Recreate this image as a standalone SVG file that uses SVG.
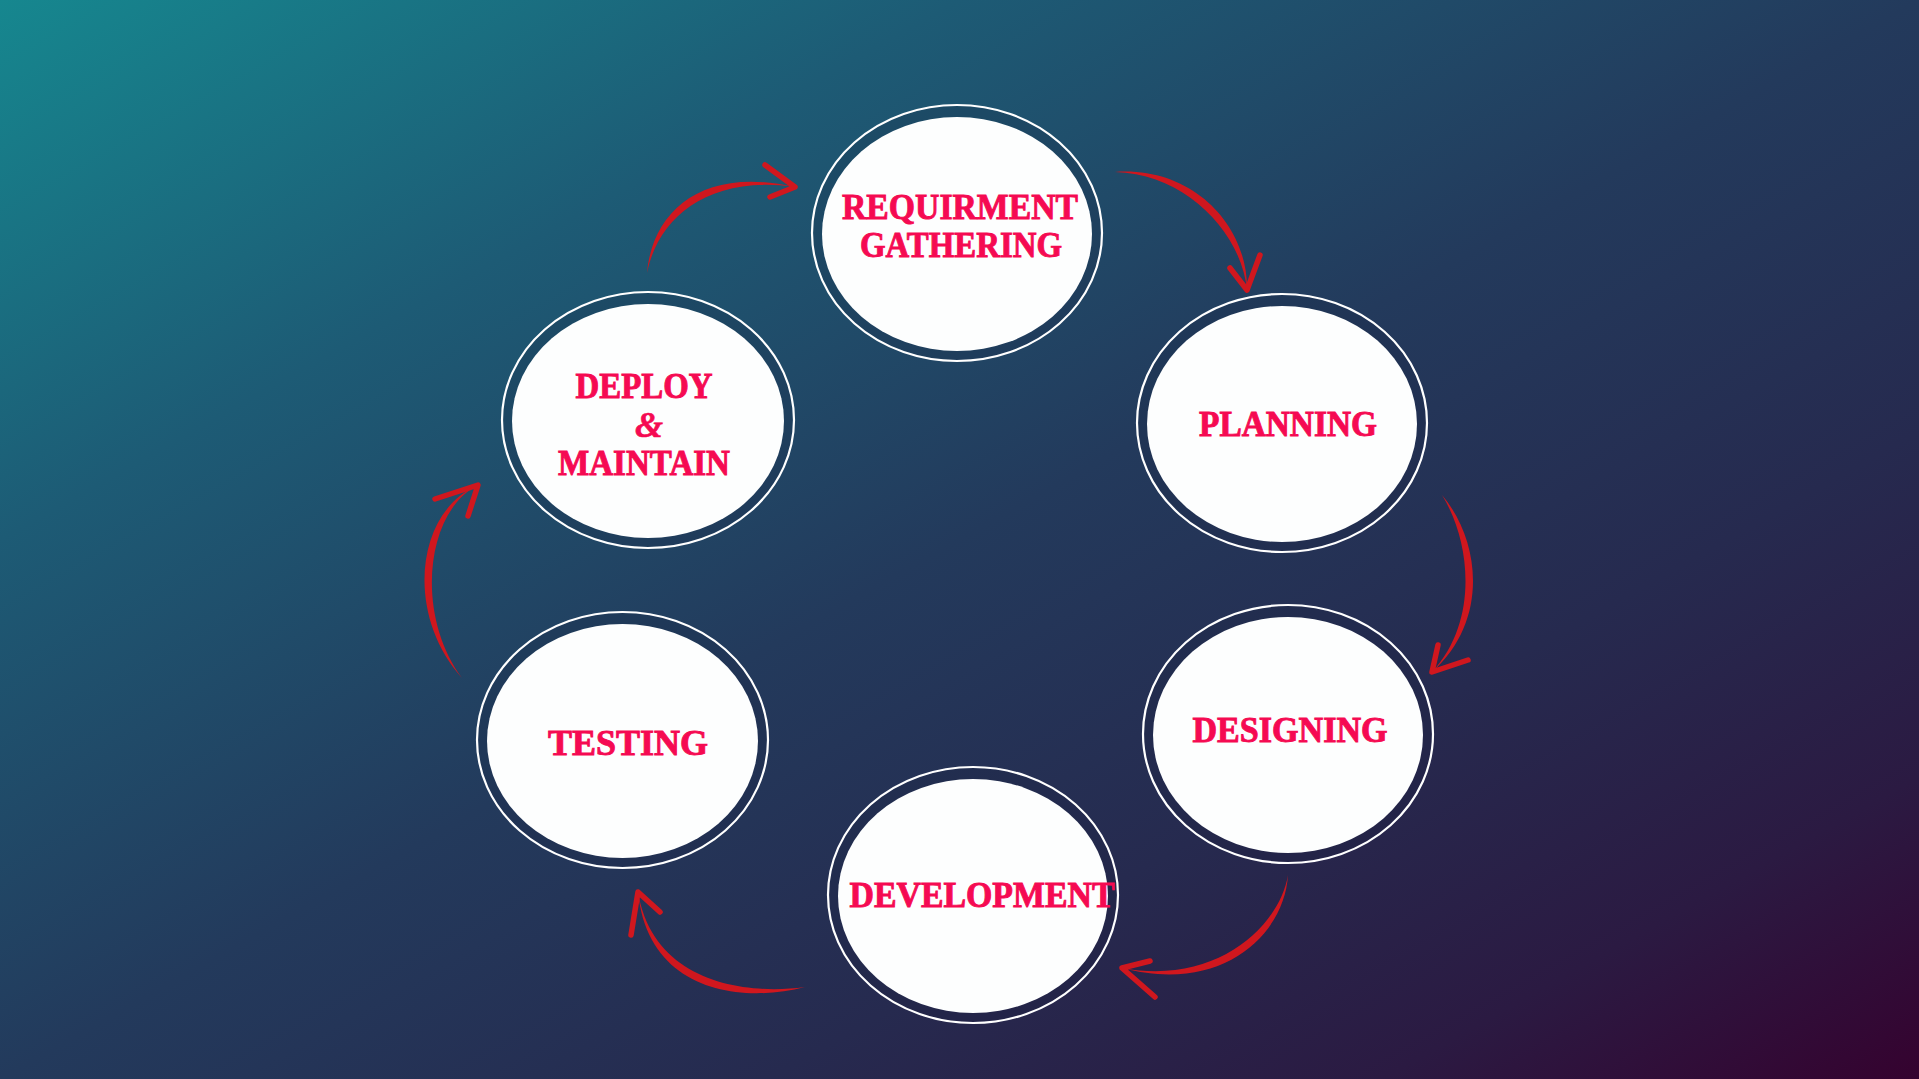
<svg xmlns="http://www.w3.org/2000/svg" width="1919" height="1079" viewBox="0 0 1919 1079">
<defs>
<linearGradient id="bg" x1="0" y1="0" x2="1" y2="1">
<stop offset="0" stop-color="#16878f"/>
<stop offset="0.25" stop-color="#1d5b75"/>
<stop offset="0.5" stop-color="#233a5c"/>
<stop offset="0.7" stop-color="#262a4f"/>
<stop offset="0.86" stop-color="#2b1a42"/>
<stop offset="1" stop-color="#35022f"/>
</linearGradient>
</defs>
<style>
.ring{fill:rgba(20,25,55,0.18);stroke:#ffffff;stroke-width:2.2}
.core{fill:#fdfefe}
.lbl{font-family:"Liberation Serif","DejaVu Serif",serif;font-weight:700;font-size:35px;fill:#f50a52;stroke:#f50a52;stroke-width:0.9;text-anchor:middle}
.amp{font-family:"Liberation Serif","DejaVu Serif",serif;font-style:italic;font-weight:700;font-size:36px;fill:#f50a52;stroke:#f50a52;stroke-width:0.6;text-anchor:middle}
.body{fill:#d0171e}
.head{fill:none;stroke:#d0171e;stroke-width:5.5;stroke-linecap:round;stroke-linejoin:round}
</style>
<rect x="0" y="0" width="1919" height="1079" fill="url(#bg)"/>

<g id="connectors">
<g id="a1">
<path class="body" d="M647,273 C657.5,219.3 707.5,174.3 795,187 C702.5,165.7 652.5,210.7 647,273 Z"/>
<path class="head" d="M765,165 L795,187 L770,197"/>
</g>
<g id="a2">
<path class="body" d="M1115,172 C1193.35,166.25 1248.35,226.25 1247,290 C1241.65,233.75 1186.65,173.75 1115,172 Z"/>
<path class="head" d="M1230,268 L1247,290 L1260,255"/>
</g>
<g id="a3">
<path class="body" d="M1442,495 C1480,540 1490,620 1432,672 C1480,620 1470,540 1442,495 Z"/>
<path class="head" d="M1438,645 L1432,672 L1468,660"/>
</g>
<g id="a4">
<path class="body" d="M1288,875 C1284.45,934.35 1222.45,994.35 1122,968 C1217.55,985.65 1279.55,925.65 1288,875 Z"/>
<path class="head" d="M1150,961 L1122,968 L1155,997"/>
</g>
<g id="a5">
<path class="body" d="M805,987 C742.45,995.65 652.45,980.65 638,892 C647.55,989.35 737.55,1004.35 805,987 Z"/>
<path class="head" d="M631,935 L638,892 L660,912"/>
</g>
<g id="a6">
<path class="body" d="M462,678 C415,615 425,512 478,485 C415,512 405,615 462,678 Z"/>
<path class="head" d="M435,499 L478,485 L468,516"/>
</g>
</g>

<g id="node-requirement">
<ellipse class="ring" cx="957" cy="233" rx="145" ry="128"/>
<ellipse class="core" cx="957" cy="234" rx="135" ry="117"/>
<text class="lbl" x="960" y="219" textLength="236" lengthAdjust="spacingAndGlyphs">REQUIRMENT</text>
<text class="lbl" x="961" y="257" textLength="202" lengthAdjust="spacingAndGlyphs">GATHERING</text>
</g>

<g id="node-planning">
<ellipse class="ring" cx="1282" cy="423" rx="145" ry="129"/>
<ellipse class="core" cx="1282" cy="424" rx="135" ry="118"/>
<text class="lbl" x="1288" y="436" textLength="178" lengthAdjust="spacingAndGlyphs">PLANNING</text>
</g>

<g id="node-designing">
<ellipse class="ring" cx="1288" cy="734" rx="145" ry="129"/>
<ellipse class="core" cx="1288" cy="735" rx="135" ry="118"/>
<text class="lbl" x="1290" y="742" textLength="195" lengthAdjust="spacingAndGlyphs">DESIGNING</text>
</g>

<g id="node-development">
<ellipse class="ring" cx="973" cy="895" rx="145" ry="128"/>
<ellipse class="core" cx="973" cy="896" rx="135" ry="117"/>
<text class="lbl" x="982" y="907" textLength="265" lengthAdjust="spacingAndGlyphs">DEVELOPMENT</text>
</g>

<g id="node-testing">
<ellipse class="ring" cx="622.5" cy="740" rx="145.5" ry="128"/>
<ellipse class="core" cx="622.5" cy="741" rx="135.5" ry="117"/>
<text class="lbl" x="628" y="755" textLength="160" lengthAdjust="spacingAndGlyphs">TESTING</text>
</g>

<g id="node-deploy">
<ellipse class="ring" cx="648" cy="420" rx="146" ry="128"/>
<ellipse class="core" cx="648" cy="421" rx="136" ry="117"/>
<text class="lbl" x="644" y="398" textLength="137" lengthAdjust="spacingAndGlyphs">DEPLOY</text>
<text class="amp" x="649" y="437">&amp;</text>
<text class="lbl" x="644" y="475" textLength="172" lengthAdjust="spacingAndGlyphs">MAINTAIN</text>
</g>
</svg>
